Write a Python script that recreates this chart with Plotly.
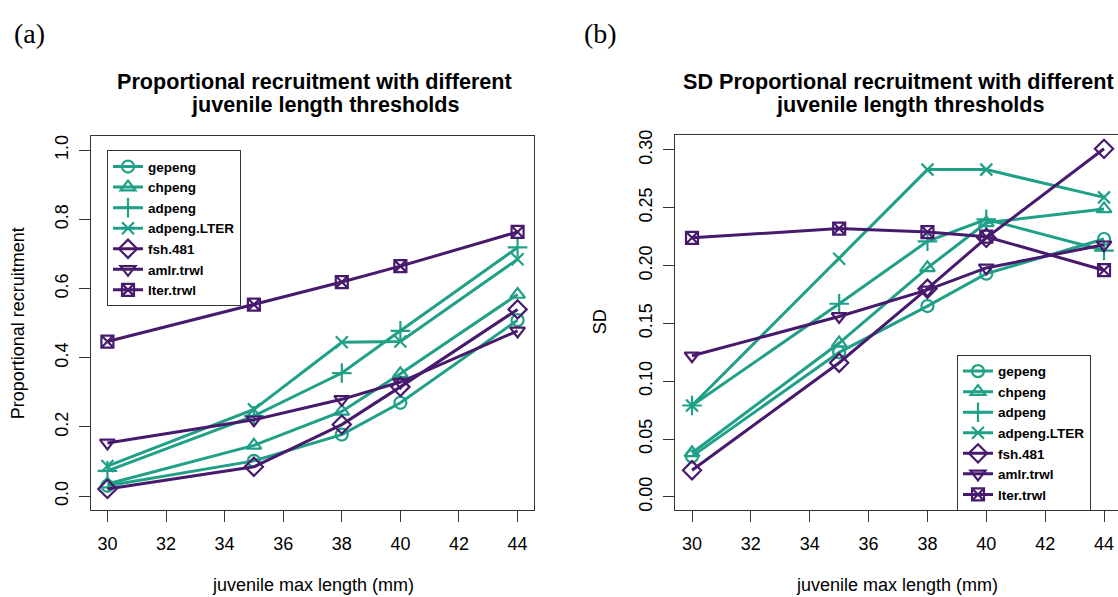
import plotly.graph_objects as go

W, H = 1118, 597

lengths = [30, 35, 38, 40, 44]
series_names = ["gepeng", "chpeng", "adpeng", "adpeng.LTER", "fsh.481", "amlr.trwl", "lter.trwl"]

# Panel (a): proportional recruitment
prop_gepeng = [0.030, 0.102, 0.178, 0.270, 0.509]
prop_chpeng = [0.035, 0.147, 0.245, 0.354, 0.583]
prop_adpeng = [0.073, 0.232, 0.356, 0.478, 0.719]
prop_adpeng_lter = [0.087, 0.251, 0.445, 0.447, 0.685]
prop_fsh481 = [0.021, 0.085, 0.207, 0.316, 0.540]
prop_amlr = [0.154, 0.221, 0.280, 0.330, 0.478]
prop_lter = [0.447, 0.554, 0.619, 0.665, 0.764]

# Panel (b): SD of proportional recruitment
sd_gepeng = [0.035, 0.125, 0.165, 0.193, 0.223]
sd_chpeng = [0.038, 0.133, 0.198, 0.237, 0.249]
sd_adpeng = [0.079, 0.167, 0.221, 0.240, 0.213]
sd_adpeng_lter = [0.079, 0.206, 0.283, 0.283, 0.259]
sd_fsh481 = [0.023, 0.116, 0.180, 0.224, 0.301]
sd_amlr = [0.122, 0.156, 0.179, 0.198, 0.218]
sd_lter = [0.224, 0.232, 0.229, 0.225, 0.196]

x_ticks = [30, 32, 34, 36, 38, 40, 42, 44]
ya_ticks = [0.0, 0.2, 0.4, 0.6, 0.8, 1.0]
yb_ticks = [0.00, 0.05, 0.10, 0.15, 0.20, 0.25, 0.30]

TEAL = "#20A086"
PURPLE = "#481A6E"
colors = [TEAL, TEAL, TEAL, TEAL, PURPLE, PURPLE, PURPLE]
symbols = ["circle-open", "triangle-up-open", "cross-thin-open", "x-thin-open",
           "diamond-open", "triangle-down-open", "square-x-open"]
sizes = [12, 13, 14, 12, 14, 13, 12]

prop_data = [prop_gepeng, prop_chpeng, prop_adpeng, prop_adpeng_lter, prop_fsh481, prop_amlr, prop_lter]
sd_data = [sd_gepeng, sd_chpeng, sd_adpeng, sd_adpeng_lter, sd_fsh481, sd_amlr, sd_lter]

fig = go.Figure()
for i, name in enumerate(series_names):
    fig.add_trace(go.Scatter(
        x=lengths, y=prop_data[i], name=name, mode="lines+markers",
        line=dict(color=colors[i], width=3),
        marker=dict(symbol=symbols[i], size=sizes[i], color=colors[i],
                    line=dict(color=colors[i], width=2.2)),
        xaxis="x", yaxis="y", legend="legend"))
for i, name in enumerate(series_names):
    fig.add_trace(go.Scatter(
        x=lengths, y=sd_data[i], name=name, mode="lines+markers",
        line=dict(color=colors[i], width=3),
        marker=dict(symbol=symbols[i], size=sizes[i], color=colors[i],
                    line=dict(color=colors[i], width=2.2)),
        xaxis="x2", yaxis="y2", legend="legend2"))

FONT = "Liberation Sans, Arial, sans-serif"
axcol = "#333333"
tickfont = dict(family=FONT, size=18, color="black")

def px(x):
    return x / W

def py(y):
    return 1 - y / H

common_x = dict(tickmode="array", tickvals=x_ticks, ticks="outside", ticklen=11,
                tickcolor=axcol, tickwidth=1, showgrid=False, zeroline=False,
                tickfont=tickfont, ticklabelstandoff=6)
common_y = dict(tickmode="array", ticks="outside", ticklen=11, tickcolor=axcol,
                tickwidth=1, showgrid=False, zeroline=False, tickfont=tickfont,
                tickangle=-90, ticklabelstandoff=4)

legend_font = dict(family=FONT, size=13.5, color="black", weight="bold")

fig.update_layout(
    width=W, height=H, margin=dict(l=0, r=0, t=0, b=0),
    paper_bgcolor="white", plot_bgcolor="white", showlegend=True,
    xaxis=dict(domain=[px(91), px(534)], range=[29.44, 44.56], anchor="y",
               showline=True, mirror=True, linecolor=axcol, linewidth=1, **common_x),
    yaxis=dict(domain=[py(511), py(133)], range=[-0.04, 1.04], anchor="x",
               tickvals=ya_ticks, tickformat=".1f",
               showline=True, mirror=True, linecolor=axcol, linewidth=1, **common_y),
    xaxis2=dict(domain=[px(675), 1.0], range=[29.422, 44.475], anchor="y2",
                showline=True, mirror=False, linecolor=axcol, linewidth=1, **common_x),
    yaxis2=dict(domain=[py(511), py(131)], range=[-0.01137, 0.3134], anchor="x2",
                tickvals=yb_ticks, tickformat=".2f",
                showline=True, mirror=False, linecolor=axcol, linewidth=1, **common_y),
    legend=dict(x=px(107), y=py(147), xanchor="left", yanchor="top",
                bordercolor=axcol, borderwidth=1, bgcolor="white",
                font=legend_font, tracegroupgap=0, itemwidth=30),
    legend2=dict(x=px(957), y=py(354), xanchor="left", yanchor="top",
                 bordercolor=axcol, borderwidth=1, bgcolor="white",
                 font=legend_font, tracegroupgap=0, itemwidth=30),
    shapes=[dict(type="line", xref="paper", yref="paper",
                 x0=px(675), x1=1.0, y0=py(131), y1=py(131),
                 line=dict(color=axcol, width=1))],
)

title_font = dict(family=FONT, size=21.6, color="black", weight="bold")
label_font = dict(family=FONT, size=18, color="black")
panel_font = dict(family="Liberation Serif, Times New Roman, serif", size=28, color="black")

annos = [
    dict(text="(a)", x=px(12), y=py(29), xanchor="left", yanchor="middle", font=panel_font),
    dict(text="(b)", x=px(582), y=py(29), xanchor="left", yanchor="middle", font=panel_font),
    dict(text="Proportional recruitment with different", x=px(314), y=py(77), font=title_font),
    dict(text="juvenile length thresholds", x=px(325), y=py(101), font=title_font),
    dict(text="SD Proportional recruitment with different", x=px(898), y=py(77), font=title_font),
    dict(text="juvenile length thresholds", x=px(910), y=py(101), font=title_font),
    dict(text="juvenile max length (mm)", x=px(312.5), y=py(587), font=label_font),
    dict(text="juvenile max length (mm)", x=px(897), y=py(587), font=label_font),
    dict(text="Proportional recruitment", x=px(18), y=py(322), font=label_font, textangle=-90),
    dict(text="SD", x=px(600), y=py(321), font=label_font, textangle=-90),
]
for a in annos:
    a.setdefault("xanchor", "center")
    a.setdefault("yanchor", "middle")
    fig.add_annotation(xref="paper", yref="paper", showarrow=False, **a)

fig.write_html("out.html")
